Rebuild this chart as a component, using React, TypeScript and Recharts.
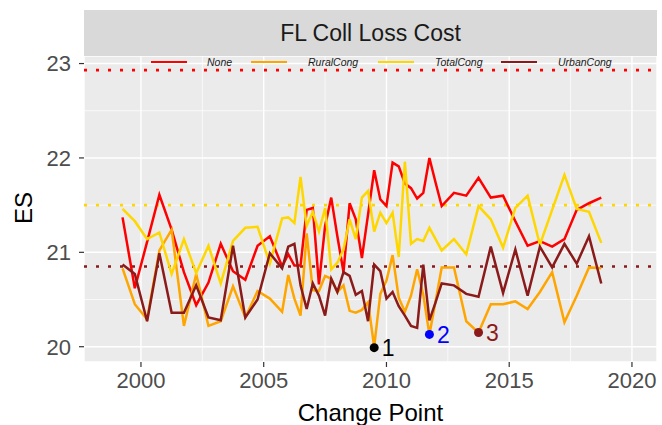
import React from 'react';
import { LineChart, Line, XAxis, YAxis, CartesianGrid, ReferenceLine, ReferenceDot } from 'recharts';

// ---- data ----
const years = [
  1999.25, 1999.75, 2000.25, 2000.75, 2001.25, 2001.75, 2002.25, 2002.75, 2003.25, 2003.75, 2004.25, 2004.75, 2005.25, 2005.75,
  2006.0, 2006.25, 2006.5, 2006.75, 2007.0, 2007.25, 2007.5, 2007.75, 2008.0, 2008.25, 2008.5, 2008.75,
  2009.0, 2009.25, 2009.5, 2009.75, 2010.0, 2010.25, 2010.5, 2010.75, 2011.0, 2011.25, 2011.5, 2011.75, 2012.0,
  2012.25, 2012.75, 2013.25, 2013.75, 2014.25, 2014.75, 2015.25, 2015.75, 2016.25, 2016.75, 2017.25, 2017.75, 2018.25, 2018.75,
];

const noneVals = [
  21.37, 20.62, 21.11, 21.61, 21.24, 20.79, 20.44, 20.68, 21.09, 20.80, 20.71, 21.07, 21.17, 20.85,
  20.98, 20.86, 20.86, 21.45, 21.47, 20.66, 21.28, 21.58, 21.17, 20.79, 21.52, 21.35,
  20.94, 21.40, 21.87, 21.56, 21.49, 21.95, 21.91, 21.73, 21.68, 21.57, 21.63, 22.00, 21.74,
  21.49, 21.63, 21.60, 21.79, 21.58, 21.60, 21.33, 21.07, 21.12, 21.06, 21.14, 21.45, 21.52, 21.58,
];

const ruralVals = [
  20.83, 20.45, 20.29, 21.02, 21.24, 20.22, 20.77, 20.22, 20.27, 20.64, 20.31, 20.59, 20.51, 20.37,
  20.76, 20.51, 20.33, 21.20, 20.60, 20.59, 20.75, 20.72, 20.58, 20.65, 20.38, 20.36,
  20.39, 20.47, 20.00, 20.56, 20.70, 20.97, 20.52, 20.37, 20.54, 20.82, 20.55, 20.13, 20.48,
  20.84, 20.84, 20.27, 20.15, 20.45, 20.45, 20.48, 20.40, 20.58, 20.79, 20.26, 20.54, 20.84, 20.83,
];

const totalVals = [
  21.46, 21.33, 21.14, 21.21, 20.77, 21.14, 20.78, 21.07, 20.67, 21.12, 21.26, 21.27, 20.88, 21.36,
  21.37, 21.31, 21.80, 21.28, 21.43, 21.22, 21.47, 20.82, 20.89, 21.03, 21.35, 21.14,
  21.58, 21.65, 21.22, 21.42, 21.31, 21.42, 20.95, 21.96, 21.09, 21.14, 21.12, 21.26, 21.14,
  21.02, 21.14, 20.98, 21.49, 21.35, 21.05, 21.47, 21.60, 21.08, 21.45, 21.82, 21.46, 21.43, 21.10,
];

const urbanVals = [
  20.87, 20.77, 20.27, 20.99, 20.36, 20.36, 20.65, 20.31, 20.28, 21.07, 20.31, 20.50, 20.99, 20.83,
  21.06, 21.09, 20.65, 20.40, 20.67, 20.54, 20.33, 20.72, 20.58, 20.79, 20.75, 20.55,
  20.59, 20.27, 20.87, 20.80, 20.51, 20.58, 20.43, 20.33, 20.22, 20.20, 20.87, 20.28, 20.47,
  20.67, 20.65, 20.56, 20.53, 21.06, 20.57, 21.03, 20.54, 21.06, 20.84, 21.09, 20.88, 21.17, 20.67,
];

const seriesNames = ['None', 'RuralCong', 'TotalCong', 'UrbanCong'];
const thresholdSeries = ['None', 'TotalCong', 'UrbanCong'];
const thresholdVals = [22.93, 21.5, 20.85];

const cpX = [2009.5, 2011.75, 2013.75];
const cpY = [19.99, 20.13, 20.15];
const cpLabels = ['1', '2', '3'];

const xTicks = [2000, 2005, 2010, 2015, 2020];
const xMinor = [2002.5, 2007.5, 2012.5, 2017.5];
const yTicks = [20, 21, 22, 23];
const yMinor = [20.5, 21.5, 22.5];

const title = 'FL Coll Loss Cost';
const xTitle = 'Change Point';
const yTitle = 'ES';

// ---- styles ----
const COLORS: Record<string, string> = {
  None: '#FF0000',
  RuralCong: '#FFA500',
  TotalCong: '#FFD700',
  UrbanCong: '#8B1A1A',
};
const CP_COLORS = ['#000000', '#0000FF', '#8B1A1A'];
const FONT = '"Liberation Sans", Arial, Helvetica, sans-serif';
const W = 662;
const H = 425;

export default function App() {
  const data = years.map((x, i) => ({
    x,
    None: noneVals[i],
    RuralCong: ruralVals[i],
    TotalCong: totalVals[i],
    UrbanCong: urbanVals[i],
  }));

  const legendKeyX = [151, 251, 378, 501];
  const legendLabelX = [207, 308, 435, 558];

  return (
    <div style={{ position: 'absolute', left: 0, top: 0, width: W, height: H, background: '#FFFFFF', fontFamily: FONT }}>
      <LineChart width={W} height={H} data={data} margin={{ top: 56, right: 5, bottom: 0, left: 0 }}>
        <CartesianGrid fill="#EBEBEB" stroke="#FFFFFF" strokeWidth={1.4} />
        {xMinor.map((v) => (
          <ReferenceLine key={'xm' + v} x={v} stroke="#FFFFFF" strokeWidth={0.7} />
        ))}
        {yMinor.map((v) => (
          <ReferenceLine key={'ym' + v} y={v} stroke="#FFFFFF" strokeWidth={0.7} />
        ))}
        <XAxis
          dataKey="x"
          type="number"
          domain={[1997.68, 2021.02]}
          ticks={xTicks}
          allowDataOverflow
          height={63}
          axisLine={false}
          tickSize={5}
          tickMargin={5}
          tickLine={{ stroke: '#333333', strokeWidth: 1.2 }}
          tick={{ fill: '#4D4D4D', fontSize: 22, fontFamily: FONT }}
        />
        <YAxis
          type="number"
          domain={[19.838, 23.08]}
          ticks={yTicks}
          allowDataOverflow
          width={84}
          axisLine={false}
          tickSize={5}
          tickMargin={8}
          tickLine={{ stroke: '#333333', strokeWidth: 1.2 }}
          tick={{ fill: '#4D4D4D', fontSize: 22, fontFamily: FONT }}
        />
        {thresholdSeries.map((s, i) => (
          <ReferenceLine
            key={'th' + s}
            y={thresholdVals[i]}
            stroke={COLORS[s]}
            strokeWidth={2.6}
            strokeDasharray="3 9"
          />
        ))}
        {seriesNames.map((s) => (
          <Line
            key={s}
            type="linear"
            dataKey={s}
            stroke={COLORS[s]}
            strokeWidth={2.5}
            dot={false}
            activeDot={false}
            isAnimationActive={false}
          />
        ))}
        {cpX.map((x, i) => (
          <ReferenceDot
            key={'cp' + i}
            x={x}
            y={cpY[i]}
            r={4.5}
            fill={CP_COLORS[i]}
            stroke="none"
            label={{ value: cpLabels[i], position: 'right', offset: 3, fill: CP_COLORS[i], fontSize: 23, fontFamily: FONT }}
          />
        ))}
      </LineChart>

      {/* strip */}
      <div
        style={{
          position: 'absolute', left: 84, top: 10, width: 573, height: 46, background: '#D9D9D9',
          display: 'flex', alignItems: 'center', justifyContent: 'center',
          fontSize: 23, color: '#1A1A1A', lineHeight: 1,
        }}
      >
        {title}
      </div>

      {/* legend */}
      {seriesNames.map((s, i) => (
        <React.Fragment key={'lg' + s}>
          <div style={{ position: 'absolute', left: legendKeyX[i], top: 60.6, width: 36, height: 2.8, background: COLORS[s] }} />
          <div
            style={{
              position: 'absolute', left: legendLabelX[i], top: 56, height: 12, lineHeight: '12px',
              fontSize: 10.5, fontStyle: 'italic', color: '#1A1A1A', whiteSpace: 'nowrap',
            }}
          >
            {s}
          </div>
        </React.Fragment>
      ))}

      {/* axis titles */}
      <div
        style={{
          position: 'absolute', left: 24, top: 208, transform: 'translate(-50%, -50%) rotate(-90deg)',
          fontSize: 24, color: '#000000', lineHeight: 1, whiteSpace: 'nowrap',
        }}
      >
        {yTitle}
      </div>
      <div
        style={{
          position: 'absolute', left: 370.5, top: 401, transform: 'translateX(-50%)',
          fontSize: 24, color: '#000000', lineHeight: 1, whiteSpace: 'nowrap',
        }}
      >
        {xTitle}
      </div>
    </div>
  );
}
